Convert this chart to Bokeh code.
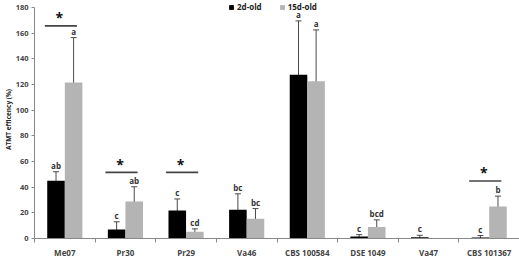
from bokeh.plotting import figure
from bokeh.models import (ColumnDataSource, FixedTicker, Whisker, TeeHead, Legend, LegendItem)
from bokeh.core.properties import value
from bokeh.embed import file_html
from bokeh.resources import INLINE

# ---- data ----
categories = ["Me07", "Pr30", "Pr29", "Va46", "CBS 100584", "DSE 1049", "Va47", "CBS 101367"]
young = [45.0, 7.0, 21.8, 22.3, 127.5, 1.5, 1.0, 0.8]          # 2d-old
young_err = [7.0, 6.0, 9.0, 12.5, 42.0, 1.5, 1.5, 1.5]
old = [121.5, 28.8, 5.3, 15.3, 122.5, 9.0, 0.0, 25.0]           # 15d-old
old_err = [35.0, 11.5, 2.2, 8.0, 40.0, 5.5, 0.0, 8.0]
young_letters = ["ab", "c", "c", "bc", "a", "c", "c", "c"]
old_letters = ["a", "ab", "cd", "bc", "a", "bcd", "", "b"]
sig_cats = ["Me07", "Pr30", "Pr29", "CBS 101367"]
sig_heights = [165.6, 51.5, 51.5, 44.8]
y_ticks = [0, 20, 40, 60, 80, 100, 120, 140, 160, 180]
series_names = ["2d-old", "15d-old"]

BLACK = "#000000"
GRAY = "#b4b4b4"
ERR = "#4a4a4a"
FONT = "Open Sans"
BW = 0.29

idx = list(range(len(categories)))
xb = [i - BW / 2 for i in idx]
xg = [i + BW / 2 for i in idx]

p = figure(width=519, height=260, output_backend="svg", toolbar_location=None,
           x_range=(-0.5, 7.5), y_range=(0, 185.4),
           min_border_left=34, min_border_right=0, min_border_top=0, min_border_bottom=22)
p.outline_line_color = None
p.xgrid.visible = False
p.ygrid.visible = False
p.background_fill_color = "white"

src_b = ColumnDataSource(dict(x=xb, top=young, err_hi=[v + e for v, e in zip(young, young_err)],
                              err_lo=[v - e for v, e in zip(young, young_err)], lab=young_letters))
src_g = ColumnDataSource(dict(x=xg, top=old, err_hi=[v + e for v, e in zip(old, old_err)],
                              err_lo=[v - e for v, e in zip(old, old_err)], lab=old_letters))

rb = p.vbar(x="x", top="top", bottom=0, width=BW, source=src_b, fill_color=BLACK, line_color=None)
rg = p.vbar(x="x", top="top", bottom=0, width=BW, source=src_g, fill_color=GRAY, line_color=None)

for src, errs in ((src_b, young_err), (src_g, old_err)):
    keep = [i for i, e in enumerate(errs) if e > 0]
    d = {k: [src.data[k][i] for i in keep] for k in ("x", "err_hi", "err_lo")}
    s = ColumnDataSource(d)
    w = Whisker(base="x", upper="err_hi", lower="err_lo", source=s, line_color=ERR, line_width=1,
                upper_head=TeeHead(size=6, line_color=ERR, line_width=1),
                lower_head=TeeHead(size=6, line_color=ERR, line_width=1))
    p.add_layout(w)

for src in (src_b, src_g):
    p.text(x="x", y="err_hi", text="lab", source=src, text_align="center", text_baseline="bottom",
           y_offset=-1, text_font=value(FONT), text_font_style="bold", text_font_size="8px",
           text_color="#333333")

# significance bars
sig_x = [categories.index(c) for c in sig_cats]
p.segment(x0=[x - 0.33 for x in sig_x], x1=[x + 0.2 for x in sig_x], y0=sig_heights, y1=sig_heights,
          line_color="#444444", line_width=1.6)
p.text(x=[x - 0.09 for x in sig_x], y=sig_heights, text=["*"] * len(sig_x), text_align="center",
       text_baseline="middle", y_offset=-8, text_font=value(FONT), text_font_style="bold",
       text_font_size="14px", text_color="#111111")

# axes
p.xaxis.ticker = FixedTicker(ticks=idx, minor_ticks=[i + 0.5 for i in idx[:-1]] + [-0.5])
p.xaxis.major_label_overrides = {i: c for i, c in enumerate(categories)}
p.xaxis.major_tick_line_color = None
p.xaxis.minor_tick_line_color = "#888888"
p.xaxis.minor_tick_in = 0
p.xaxis.minor_tick_out = 4
p.xaxis.axis_line_color = "#888888"
p.xaxis.major_label_standoff = 2
p.xaxis.major_label_text_font = FONT
p.xaxis.major_label_text_font_size = "8px"
p.xaxis.major_label_text_font_style = "bold"
p.xaxis.major_label_text_color = "#444444"

p.yaxis.ticker = FixedTicker(ticks=y_ticks)
p.yaxis.bounds = (y_ticks[0], y_ticks[-1])
p.yaxis.minor_tick_line_color = None
p.yaxis.major_tick_in = 0
p.yaxis.major_tick_out = 3
p.yaxis.major_tick_line_color = "#888888"
p.yaxis.axis_line_color = "#888888"
p.yaxis.major_label_standoff = 3
p.yaxis.major_label_text_font = FONT
p.yaxis.major_label_text_font_size = "7.5px"
p.yaxis.major_label_text_font_style = "bold"
p.yaxis.major_label_text_color = "#444444"
p.yaxis.axis_label = "ATMT efficency (%)"
p.yaxis.axis_label_text_font = FONT
p.yaxis.axis_label_text_font_size = "6.5px"
p.yaxis.axis_label_text_font_style = "bold"
p.yaxis.axis_label_text_color = "#222222"
p.yaxis.axis_label_standoff = 0

legend = Legend(items=[LegendItem(label=series_names[0], renderers=[rb]),
                       LegendItem(label=series_names[1], renderers=[rg])],
                orientation="horizontal", location=(194, 226),
                glyph_width=6, glyph_height=6, label_standoff=3, spacing=17, padding=0,
                margin=0, border_line_color=None, background_fill_alpha=0,
                label_text_font=FONT, label_text_font_size="8px", label_text_font_style="bold",
                label_text_color="#222222", label_height=9)
p.add_layout(legend, "center")

open("out.html", "w").write(file_html(p, INLINE))
